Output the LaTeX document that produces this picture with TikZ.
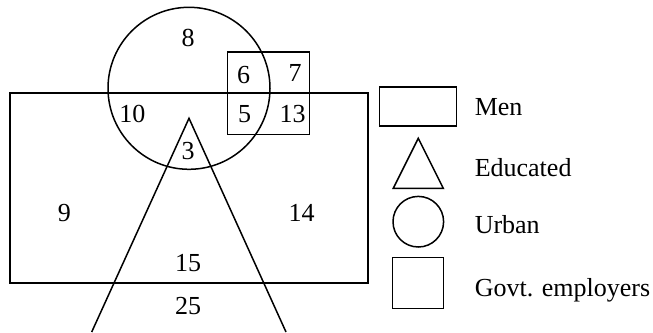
\documentclass[tikz,border=0pt]{standalone}
\usepackage{fontspec}
\setmainfont{Liberation Serif}
\usepackage{tikz}

\begin{document}
\begin{tikzpicture}[
    x=1pt, y=-1pt,
    line width=1.5pt,
    num/.style={inner sep=0pt, font=\fontsize{26}{30}\selectfont},
    key/.style={rectangle, draw, line width=1.5pt, inner sep=0pt},
    caption/.style={anchor=base west, inner sep=0pt, font=\fontsize{26}{30}\selectfont}
]
    \useasboundingbox (0,0) rectangle (653,332);

    % Sets
    \node[key, minimum width=358pt, minimum height=190pt] (men) at (189,188) {};
    \node[key, circle, minimum size=162pt] (urban) at (189,88.3) {};
    \node[key, minimum width=82pt, minimum height=82.5pt] (govt) at (268.3,93) {};
    \coordinate (apex) at (189,118.3);
    \coordinate (baseL) at (91.7,332);
    \coordinate (baseR) at (286,332);
    \draw (baseL) -- (apex) -- (baseR);

    % Counts
    \node[num] (n8) at (188,38.3) {8};
    \node[num] (n6) at (243.5,75) {6};
    \node[num] (n7) at (295,73) {7};
    \node[num] (n10) at (132.3,114) {10};
    \node[num] (n5) at (244.5,114.5) {5};
    \node[num] (n13) at (292.7,114) {13};
    \node[num] (n3) at (188,151.3) {3};
    \node[num] (n9) at (64.3,213.5) {9};
    \node[num] (n14) at (301.7,213.3) {14};
    \node[num] (n15) at (188,263.3) {15};
    \node[num] (n25) at (188,306.3) {25};

    % Legend
    \node[key, minimum width=77pt, minimum height=39pt] (menkey) at (418,106.7) {};
    \coordinate (edtop) at (418.3,138.3);
    \coordinate (edleft) at (393.3,188.3);
    \coordinate (edright) at (443.3,188.3);
    \draw (edleft) -- (edtop) -- (edright) -- cycle;
    \node[key, circle, minimum size=50.6pt] (urbankey) at (418.3,221.7) {};
    \node[key, minimum size=51pt] (govtkey) at (418,282.8) {};

    \node[caption] (menlbl) at (474,115) {Men};
    \node[caption] (edlbl) at (474,176.7) {Educated};
    \node[caption] (urbanlbl) at (474,233.3) {Urban};
    \node[caption] (govtlbl) at (474,296) {Govt. employers};
\end{tikzpicture}
\end{document}
